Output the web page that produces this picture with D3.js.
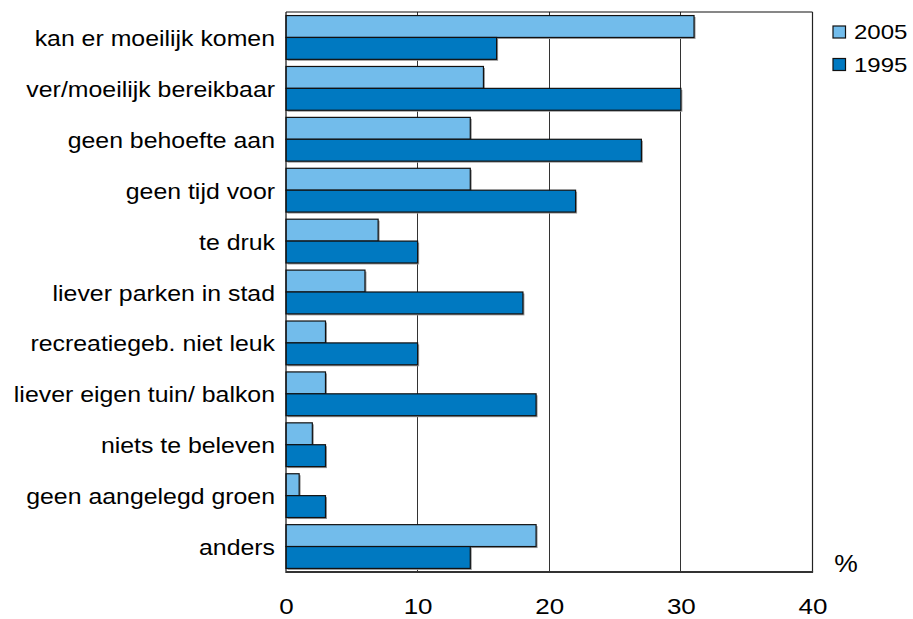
<!DOCTYPE html>
<html><head><meta charset="utf-8">
<script src="https://cdn.jsdelivr.net/npm/d3@7"></script>
<style>body{margin:0;background:#fff}svg{display:block}text{font-family:"Liberation Sans",Arial,sans-serif;fill:#000}</style>
</head><body>
<script>
const categories = ["kan er moeilijk komen","ver/moeilijk bereikbaar","geen behoefte aan","geen tijd voor","te druk","liever parken in stad","recreatiegeb. niet leuk","liever eigen tuin/ balkon","niets te beleven","geen aangelegd groen","anders"];
const values2005 = [31,15,14,14,7,6,3,3,2,1,19];
const values1995 = [16,30,27,22,10,18,10,19,3,3,14];
const seriesNames = ["2005","1995"];
const seriesColors = ["#72BCEB","#0079C1"];
const xTicks = [0,10,20,30,40];

(function(){
const W=913,H=619;
const pL=286,pR=812.5,pT=12,pB=572;
const svg=d3.select("body").append("svg").attr("width",W).attr("height",H);
const x=d3.scaleLinear().domain([0,40]).range([pL,pR]);
const y=d3.scaleBand().domain(categories).range([pT,pB]).paddingInner(0.14).paddingOuter(0.07);
const sub=d3.scaleBand().domain(seriesNames).range([0,y.bandwidth()]);

svg.append("g").selectAll("line").data(xTicks.slice(1,-1)).join("line")
 .attr("x1",d=>x(d)).attr("x2",d=>x(d)).attr("y1",pT).attr("y2",pB)
 .attr("stroke","#333").attr("stroke-width",1).attr("shape-rendering","crispEdges");

const data=[];
categories.forEach((c,i)=>{data.push({c,s:"2005",v:values2005[i],col:seriesColors[0]});data.push({c,s:"1995",v:values1995[i],col:seriesColors[1]});});
svg.append("g").selectAll("rect").data(data).join("rect")
 .attr("x",x(0)+1.5).attr("y",d=>y(d.c)+sub(d.s)+1.5)
 .attr("width",d=>x(d.v)-x(0)).attr("height",sub.bandwidth())
 .attr("fill","#999");
svg.append("g").selectAll("rect").data(data).join("rect")
 .attr("x",x(0)).attr("y",d=>y(d.c)+sub(d.s))
 .attr("width",d=>x(d.v)-x(0)).attr("height",sub.bandwidth())
 .attr("fill",d=>d.col).attr("stroke","#111").attr("stroke-width",1.2);

svg.append("line").attr("x1",pL).attr("x2",pR).attr("y1",pT).attr("y2",pT).attr("stroke","#111").attr("stroke-width",1.2);
svg.append("line").attr("x1",pR).attr("x2",pR).attr("y1",pT).attr("y2",pB).attr("stroke","#222").attr("stroke-width",1.2);
svg.append("line").attr("x1",pL).attr("x2",pL).attr("y1",pT).attr("y2",pB+1).attr("stroke","#111").attr("stroke-width",1.2);
svg.append("line").attr("x1",pL).attr("x2",pR+0.6).attr("y1",pB).attr("y2",pB).attr("stroke","#333").attr("stroke-width",2);

svg.append("g").selectAll("text").data(categories).join("text")
 .attr("transform",d=>`translate(275,${y(d)+y.bandwidth()/2+8.5}) scale(1.13,1)`)
 .attr("text-anchor","end").attr("font-size",22).text(d=>d);

const xAxis=d3.axisBottom(x).tickValues(xTicks).tickSize(0).tickPadding(0);
const ax=svg.append("g").attr("transform",`translate(0,${pB})`).call(xAxis);
ax.select(".domain").remove();
ax.selectAll(".tick text").attr("font-size",22).attr("font-family","Liberation Sans, Arial, sans-serif").attr("fill","#000")
 .attr("dy",null).attr("y",null).attr("transform","translate(0,42) scale(1.18,1)");

svg.append("text").attr("transform","translate(846,572) scale(1.15,1)").attr("text-anchor","middle").attr("font-size",23).text("%");

const lg=svg.append("g").selectAll("g").data(seriesNames).join("g")
 .attr("transform",(d,i)=>`translate(833,${26+i*32.5})`);
lg.append("rect").attr("width",12.5).attr("height",12).attr("fill",(d,i)=>seriesColors[i]).attr("stroke","#111").attr("stroke-width",1.2);
lg.append("text").attr("transform","translate(21,13) scale(1.2,1)").attr("font-size",20).text(d=>d);
})();
</script>
</body></html>
